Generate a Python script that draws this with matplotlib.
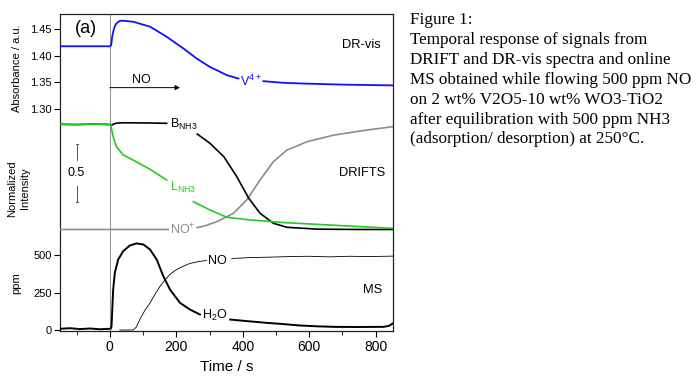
import numpy as np
import matplotlib
matplotlib.use('Agg')
import matplotlib.pyplot as plt

plt.rcParams['font.family'] = ['Liberation Sans', 'DejaVu Sans']
plt.rcParams['mathtext.default'] = 'regular'

nan = np.nan

# --- DR-vis (absorbance / a.u.) ---
vis_t = [-150, 0, 4, 7, 10, 15, 20, 30, 39, 70, 121, 171, 221, 261, 301, 352, 387,
         nan, 462, 520, 573, 700, 852]
vis_v = [1.418, 1.418, 1.420, 1.436, 1.4455, 1.456, 1.4614, 1.466, 1.4663, 1.4644, 1.455,
         1.436, 1.414, 1.395, 1.379, 1.3634, 1.357, nan, 1.352, 1.349, 1.3477, 1.3455, 1.344]

# --- DRIFTS (normalized intensity) ---
b_t = [-150, -100, -50, 0, 5, 10, 20, 40, 80, 120, 171, nan,
       263, 301, 343, 382, 418, 452, 492, 533, 623, 750, 852]
b_v = [0.915, 0.912, 0.917, 0.913, 0.905, 0.915, 0.925, 0.928, 0.927, 0.926, 0.923, nan,
       0.83, 0.75, 0.633, 0.459, 0.271, 0.141, 0.054, 0.019, 0.003, 0.0, 0.0]
l_t = [-150, -100, -50, 0, 3, 6, 10, 20, 40, 70, 121, 171, nan,
       251, 301, 352, 422, 523, 673, 852]
l_v = [0.915, 0.912, 0.917, 0.913, 0.905, 0.86, 0.807, 0.72, 0.648, 0.604, 0.523, 0.43, nan,
       0.242, 0.17, 0.106, 0.083, 0.06, 0.037, 0.01]
nop_t = [-150, 176, nan, 263, 290, 322, 372, 412, 452, 492, 533, 593, 673, 774, 852]
nop_v = [0.0, 0.0, nan, 0.016, 0.035, 0.068, 0.141, 0.257, 0.43, 0.59, 0.69, 0.763,
         0.82, 0.865, 0.894]

# --- MS (ppm) ---
h2o_t = [-150, -120, -90, -60, -30, 0, 3, 5, 10, 15, 25, 40, 60, 80, 101, 121, 141, 161,
         181, 211, 241, 271, nan, 362, 420, 471, 520, 573, 620, 674, 750, 824, 840, 852]
h2o_v = [8, 12, 6, 10, 5, 8, 10, 25, 271, 383, 472, 528, 566, 580, 573, 539, 472, 360,
         271, 182, 137, 104, nan, 70, 58, 48, 40, 30, 25, 21, 20, 21, 28, 45]
no_t = [30, 70, 80, 90, 105, 121, 136, 151, 166, 181, 196, 211, 226, 241, 266, 291, nan,
        367, 420, 480, 540, 600, 660, 720, 780, 852]
no_v = [0, 0, 20, 70, 130, 182, 240, 293, 335, 372, 398, 417, 432, 446, 458, 466, nan,
        479, 485, 488, 492, 494, 490, 494, 492, 495]

caption = ['Figure 1:',
           'Temporal response of signals from',
           'DRIFT and DR-vis spectra and online',
           'MS obtained while flowing 500 ppm NO',
           'on 2 wt% V2O5-10 wt% WO3-TiO2',
           'after equilibration with 500 ppm NH3',
           '(adsorption/ desorption) at 250°C.']

W, H = 697, 376
fig = plt.figure(figsize=(W / 100, H / 100), dpi=100)


def box(top_px, bot_px, left=60, right=393):
    return [left / W, 1 - bot_px / H, (right - left) / W, (bot_px - top_px) / H]


xlim = (-150, 852)

# outer frame with time axis
ax = fig.add_axes(box(14, 330.5))
ax.set_xlim(xlim)
ax.set_ylim(0, 1)
ax.set_yticks([])
ax.set_xticks([0, 200, 400, 600, 800])
ax.set_xticks([-100, 100, 300, 500, 700], minor=True)
ax.tick_params(axis='x', which='major', direction='out', length=4, labelsize=10, pad=3)
ax.tick_params(axis='x', which='minor', direction='out', length=3)
for s in ax.spines.values():
    s.set_linewidth(0.9)
    s.set_color('#222222')
ax.axvline(0, color='#999999', lw=0.8)
ax.set_xlabel('Time / s', fontsize=11, labelpad=4)


def overlay(top_px, bot_px):
    a = fig.add_axes(box(top_px, bot_px))
    a.patch.set_visible(False)
    for s in a.spines.values():
        s.set_visible(False)
    a.set_xlim(xlim)
    a.set_xticks([])
    return a


# DR-vis panel
ax_vis = overlay(14, 130)
ax_vis.set_ylim(1.2597, 1.479)
ax_vis.set_yticks([1.30, 1.35, 1.40, 1.45])
ax_vis.set_yticklabels(['1.30', '1.35', '1.40', '1.45'])
ax_vis.tick_params(axis='y', direction='out', length=4, labelsize=8, pad=2)
ax_vis.plot(vis_t, vis_v, color='#1010ff', lw=1.3)
ax_vis.annotate('', xy=(211, 1.3398), xytext=(0, 1.3398),
                arrowprops=dict(arrowstyle='-|>', color='black', lw=0.7,
                                mutation_scale=7, shrinkA=0, shrinkB=0))
ax_vis.text(95, 1.3544, 'NO', fontsize=9, ha='center', va='center')
ax_vis.text(392, 1.3525, r'V$^{4+}$', fontsize=9, color='#1010ff', ha='left', va='center')
ax_vis.text(756, 1.4195, 'DR-vis', fontsize=9.3, ha='center', va='center')
ax_vis.text(-72, 1.451, '(a)', fontsize=13, ha='center', va='center')
ax_vis.set_ylabel('Absorbance / a.u.', fontsize=8, labelpad=4)
ax_vis.yaxis.set_label_coords(-0.115, 0.53)

# DRIFTS panel
ax_dr = overlay(110, 245)
ax_dr.set_ylim(-0.135, 1.039)
ax_dr.set_yticks([])
ax_dr.plot(nop_t, nop_v, color='#8c8c8c', lw=1.2)
ax_dr.plot(b_t, b_v, color='black', lw=1.2)
ax_dr.plot(l_t, l_v, color='#22cc22', lw=1.2)
ax_dr.text(180, 0.91, r'B$_{NH3}$', fontsize=9, ha='left', va='center')
ax_dr.text(180, 0.365, r'L$_{NH3}$', fontsize=9, color='#22cc22', ha='left', va='center')
ax_dr.text(180, 0.0, r'NO$^{+}$', fontsize=9, color='#8c8c8c', ha='left', va='center')
ax_dr.text(759, 0.495, 'DRIFTS', fontsize=9.3, ha='center', va='center')
ax_dr.plot([-100, -100], [0.741, 0.60], color='#555555', lw=0.7)
ax_dr.plot([-100, -100], [0.38, 0.242], color='#555555', lw=0.7)
ax_dr.plot([-103, -97], [0.741, 0.741], color='#555555', lw=0.7)
ax_dr.plot([-103, -97], [0.242, 0.242], color='#555555', lw=0.7)
ax_dr.text(-102, 0.489, '0.5', fontsize=9, ha='center', va='center')
ax_dr.set_ylabel('Normalized\nIntensity', fontsize=8, linespacing=1.4)
ax_dr.yaxis.set_label_coords(-0.09, 0.42)

# MS panel
ax_ms = overlay(235, 330.5)
ax_ms.set_ylim(-3.4, 636.5)
ax_ms.set_yticks([0, 250, 500])
ax_ms.tick_params(axis='y', direction='out', length=4, labelsize=8, pad=2)
ax_ms.plot(no_t, no_v, color='black', lw=0.6)
ax_ms.plot(h2o_t, h2o_v, color='black', lw=1.4)
ax_ms.text(295, 462, 'NO', fontsize=9, ha='left', va='center')
ax_ms.text(276, 95, r'H$_2$O', fontsize=9, ha='left', va='center')
ax_ms.text(792, 265, 'MS', fontsize=9.3, ha='center', va='center')
ax_ms.set_ylabel('ppm', fontsize=8)
ax_ms.yaxis.set_label_coords(-0.115, 0.5)

# caption on the right
ys = [20.5, 40.3, 60.1, 79.9, 99.7, 119.5, 139.3]
for line, y in zip(caption, ys):
    fig.text(410 / W, 1 - y / H, line, fontsize=12.3, family='Liberation Serif',
             ha='left', va='center')

fig.savefig('out.png', dpi=100)
